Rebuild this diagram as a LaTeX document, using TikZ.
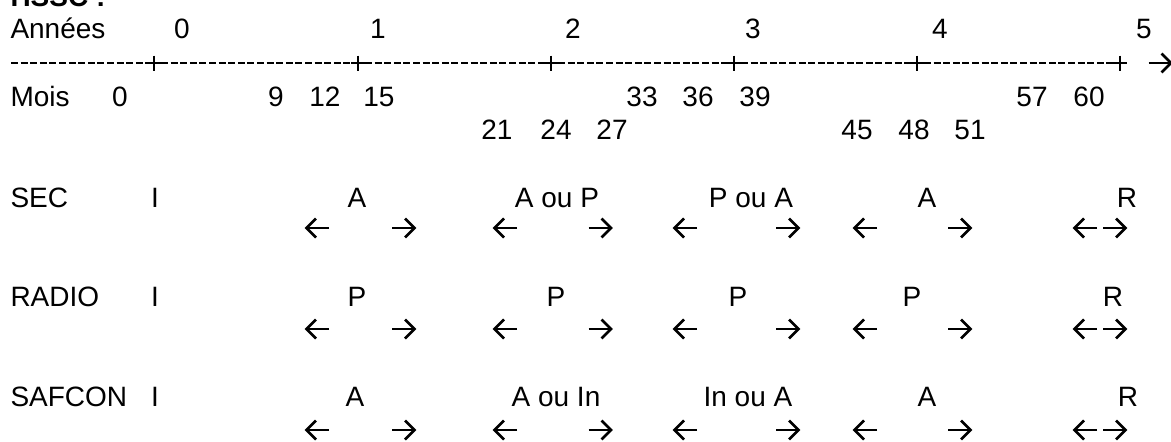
\documentclass[tikz,border=0pt]{standalone}
\usepackage{fontspec}
\setmainfont{Liberation Sans}
\begin{document}
\begin{tikzpicture}[x=1pt,y=-1pt,
  every node/.style={inner sep=0pt, outer sep=0pt, font=\fontsize{28}{34}\selectfont},
  lbl/.style={anchor=base west},
  val/.style={anchor=base},
  stroke/.style={line width=2.7pt, black},
  rule/.style={line width=2.6pt, black, dash pattern=on 7pt off 2.6pt},
  rarr/.pic={\draw[stroke] (-11.5,0) -- (11,0);
             \draw[stroke, line join=miter] (1.5,-9.5) -- (11,0) -- (1.5,9.5);},
  larr/.pic={\draw[stroke] (11.5,0) -- (-11,0);
             \draw[stroke, line join=miter] (-1.5,-9.5) -- (-11,0) -- (-1.5,9.5);},
  plus/.pic={\draw[line width=2.6pt] (-7,0) -- (7,0); \draw[line width=2.6pt] (0,-7.5) -- (0,7.5);}
]
\useasboundingbox (0,0) rectangle (1171,442);
\clip (0,0) rectangle (1171,442);

% heading (only its lower edge falls inside the frame)
\node[lbl, font=\fontsize{28}{34}\selectfont\bfseries] (title) at (10.5,6) {HSSC :};

% years scale
\node[lbl] (annees) at (10.5,38) {Années};
\foreach \t/\x in {0/182,1/378,2/573,3/753,4/940,5/1144}
  \node[val] (yr\t) at (\x,38) {\t};

% time axis: dashed run with a cross at each year
\coordinate (a0) at (11,63);
\foreach \x [count=\i] in {154,358,551,734,917,1120}{
  \coordinate (a\i) at (\x,63);
  \pic at (a\i) {plus};
}
\draw[rule] (a0) -- ([xshift=-7pt]a1);
\foreach \i [evaluate=\i as \j using int(\i+1)] in {1,...,5}
  \draw[rule] ([xshift=7pt]a\i) -- ([xshift=-7pt]a\j);
\coordinate (aend) at (1160,63);
\pic at (aend) {rarr};

% months
\node[lbl] (mois) at (10.5,106) {Mois};
\foreach \t/\x in {0/120,9/276,12/325,15/379,33/642,36/698,39/755,57/1032,60/1089}
  \node[val] (m\t) at (\x,106) {\t};
\foreach \t/\x in {21/497,24/556,27/612,45/857,48/914,51/970}
  \node[val] (m\t) at (\x,139) {\t};

% SEC
\node[lbl] (sec) at (10.5,207) {SEC};
\node[val] (secI) at (155,207) {I};
\foreach \t/\x [count=\i] in {A/357,A ou P/557,P ou A/751,A/927,R/1127}
  \node[val] (sec\i) at (\x,207) {\t};

% RADIO
\node[lbl] (radio) at (10.5,306) {RADIO};
\node[val] (radioI) at (155,306) {I};
\foreach \t/\x [count=\i] in {P/357,P/556,P/738,P/912,R/1113}
  \node[val] (radio\i) at (\x,306) {\t};

% SAFCON
\node[lbl] (safcon) at (10.5,406) {SAFCON};
\node[val] (safconI) at (155,406) {I};
\foreach \t/\x [count=\i] in {A/355,A ou In/556,In ou A/748,A/927,R/1128}
  \node[val] (safcon\i) at (\x,406) {\t};

% interval arrows under each row
\foreach \y in {228,329,430}{
  \foreach \x in {317.5,505.5,685.5,865.5,1085.5}
    \pic at (\x,\y) {larr};
  \foreach \x in {403.5,600,787.5,959.5,1114.5}
    \pic at (\x,\y) {rarr};
}
\end{tikzpicture}
\end{document}
